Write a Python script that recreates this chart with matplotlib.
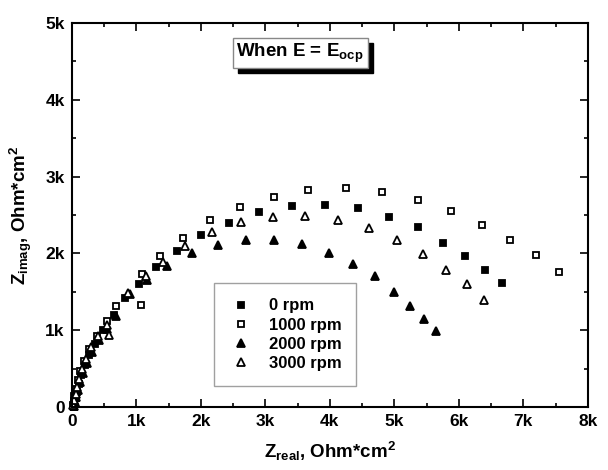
"""Nyquist plot of impedance at E = Eocp for several rotation speeds."""

import matplotlib
matplotlib.use("Agg")
import matplotlib.pyplot as plt
from matplotlib.patches import Rectangle
from matplotlib.ticker import MultipleLocator, FuncFormatter

plt.rcParams["font.family"] = ["Liberation Sans", "DejaVu Sans"]
plt.rcParams["font.weight"] = "bold"
plt.rcParams["axes.labelweight"] = "bold"
plt.rcParams["mathtext.fontset"] = "custom"
plt.rcParams["mathtext.rm"] = "Liberation Sans:bold"
plt.rcParams["mathtext.it"] = "Liberation Sans:bold"
plt.rcParams["mathtext.bf"] = "Liberation Sans:bold"

# values in kOhm*cm2
z_real_0 = [0.03, 0.04, 0.06, 0.08, 0.11, 0.15, 0.20, 0.27, 0.36, 0.48, 0.65, 0.83, 1.05, 1.31,
            1.63, 2.01, 2.43, 2.90, 3.42, 3.92, 4.44, 4.92, 5.36, 5.75, 6.09, 6.41, 6.67]
z_imag_0 = [0.00, 0.05, 0.12, 0.20, 0.30, 0.42, 0.55, 0.68, 0.82, 1.00, 1.20, 1.42, 1.60, 1.82,
            2.03, 2.24, 2.40, 2.54, 2.62, 2.63, 2.59, 2.48, 2.34, 2.14, 1.96, 1.78, 1.62]

z_real_1000 = [0.02, 0.03, 0.04, 0.06, 0.09, 0.13, 0.19, 0.27, 0.39, 0.55, 0.68, 1.08, 1.09, 1.37,
               1.73, 2.15, 2.60, 3.14, 3.66, 4.25, 4.81, 5.36, 5.88, 6.36, 6.79, 7.20, 7.55]
z_imag_1000 = [0.02, 0.08, 0.15, 0.24, 0.35, 0.47, 0.60, 0.76, 0.92, 1.12, 1.31, 1.33, 1.73, 1.97,
               2.20, 2.43, 2.60, 2.74, 2.83, 2.85, 2.80, 2.70, 2.55, 2.37, 2.17, 1.98, 1.76]

z_real_2000 = [0.03, 0.05, 0.07, 0.10, 0.13, 0.18, 0.24, 0.32, 0.43, 0.55, 0.68, 0.91, 1.17, 1.48,
               1.86, 2.26, 2.70, 3.14, 3.57, 3.98, 4.36, 4.70, 4.99, 5.24, 5.46, 5.64]
z_imag_2000 = [0.01, 0.06, 0.13, 0.22, 0.32, 0.44, 0.57, 0.72, 0.87, 1.02, 1.18, 1.47, 1.66, 1.84,
               2.00, 2.11, 2.17, 2.17, 2.12, 2.01, 1.86, 1.70, 1.50, 1.32, 1.14, 0.99]

z_real_3000 = [0.02, 0.04, 0.06, 0.08, 0.12, 0.16, 0.22, 0.30, 0.40, 0.54, 0.58, 0.87, 1.15, 1.42,
               1.75, 2.17, 2.63, 3.12, 3.61, 4.13, 4.60, 5.04, 5.45, 5.80, 6.12, 6.39]
z_imag_3000 = [0.03, 0.09, 0.17, 0.26, 0.37, 0.50, 0.63, 0.78, 0.92, 1.07, 0.94, 1.48, 1.70, 1.89,
               2.10, 2.28, 2.41, 2.48, 2.49, 2.43, 2.33, 2.17, 1.99, 1.79, 1.60, 1.40]

labels = ["0 rpm", "1000 rpm", "2000 rpm", "3000 rpm"]


def kfmt(v, pos):
    if abs(v) < 1e-9:
        return "0"
    return f"{v / 1000:.0f}k"


def main():
    fig = plt.figure(figsize=(6.08, 4.70), dpi=100)
    ax = fig.add_axes([0.118, 0.134, 0.849, 0.817])

    series = [
        (z_real_0, z_imag_0, "s", "black"),
        (z_real_1000, z_imag_1000, "s", "white"),
        (z_real_2000, z_imag_2000, "^", "black"),
        (z_real_3000, z_imag_3000, "^", "white"),
    ]
    for (xs, ys, mk, fc), lab in zip(series, labels):
        ax.plot([x * 1000 for x in xs], [y * 1000 for y in ys], linestyle="none",
                marker=mk, markersize=5.0 if mk == "s" else 6.2, markerfacecolor=fc,
                markeredgecolor="black", markeredgewidth=1.3, label=lab, clip_on=False)

    ax.set_xlim(0, 8000)
    ax.set_ylim(0, 5000)
    ax.xaxis.set_major_locator(MultipleLocator(1000))
    ax.xaxis.set_minor_locator(MultipleLocator(500))
    ax.yaxis.set_major_locator(MultipleLocator(1000))
    ax.yaxis.set_minor_locator(MultipleLocator(500))
    ax.xaxis.set_major_formatter(FuncFormatter(kfmt))
    ax.yaxis.set_major_formatter(FuncFormatter(kfmt))
    ax.tick_params(which="both", direction="in", top=True, right=True, width=1.2)
    ax.tick_params(which="major", length=6, labelsize=12.5, pad=5)
    ax.tick_params(which="minor", length=3)
    for lab in ax.get_xticklabels() + ax.get_yticklabels():
        lab.set_fontweight("bold")
    for sp in ax.spines.values():
        sp.set_linewidth(1.5)

    ax.set_xlabel(r"Z$_{\mathrm{real}}$, Ohm*cm$^{2}$", fontsize=13.5, fontweight="bold",
                  labelpad=8)
    ax.set_ylabel(r"Z$_{\mathrm{imag}}$, Ohm*cm$^{2}$", fontsize=13.5, fontweight="bold",
                  labelpad=8)

    leg = ax.legend(loc="upper left", bbox_to_anchor=(0.275, 0.322), fontsize=12,
                    frameon=True, fancybox=False, borderpad=0.9, handletextpad=0.9,
                    labelspacing=0.25, handlelength=1.5, borderaxespad=0,
                    markerscale=0.9)
    leg.get_frame().set_edgecolor("#888888")
    leg.get_frame().set_linewidth(1.0)

    # annotation box with drop shadow
    W, H = 608, 470
    fig.patches.append(Rectangle((238 / W, 1 - 73 / H), 135 / W, 30 / H,
                                 transform=fig.transFigure, facecolor="black",
                                 edgecolor="black", zorder=5))
    fig.patches.append(Rectangle((233 / W, 1 - 68 / H), 135 / W, 30 / H,
                                 transform=fig.transFigure, facecolor="white",
                                 edgecolor="#888888", linewidth=1.0, zorder=6))
    fig.text(300 / W, 1 - 53 / H, r"When E = E$_{\mathrm{ocp}}$", ha="center", va="center",
             fontsize=13.5, zorder=7)

    fig.savefig("out.png", dpi=100)
    plt.close(fig)


if __name__ == "__main__":
    main()
